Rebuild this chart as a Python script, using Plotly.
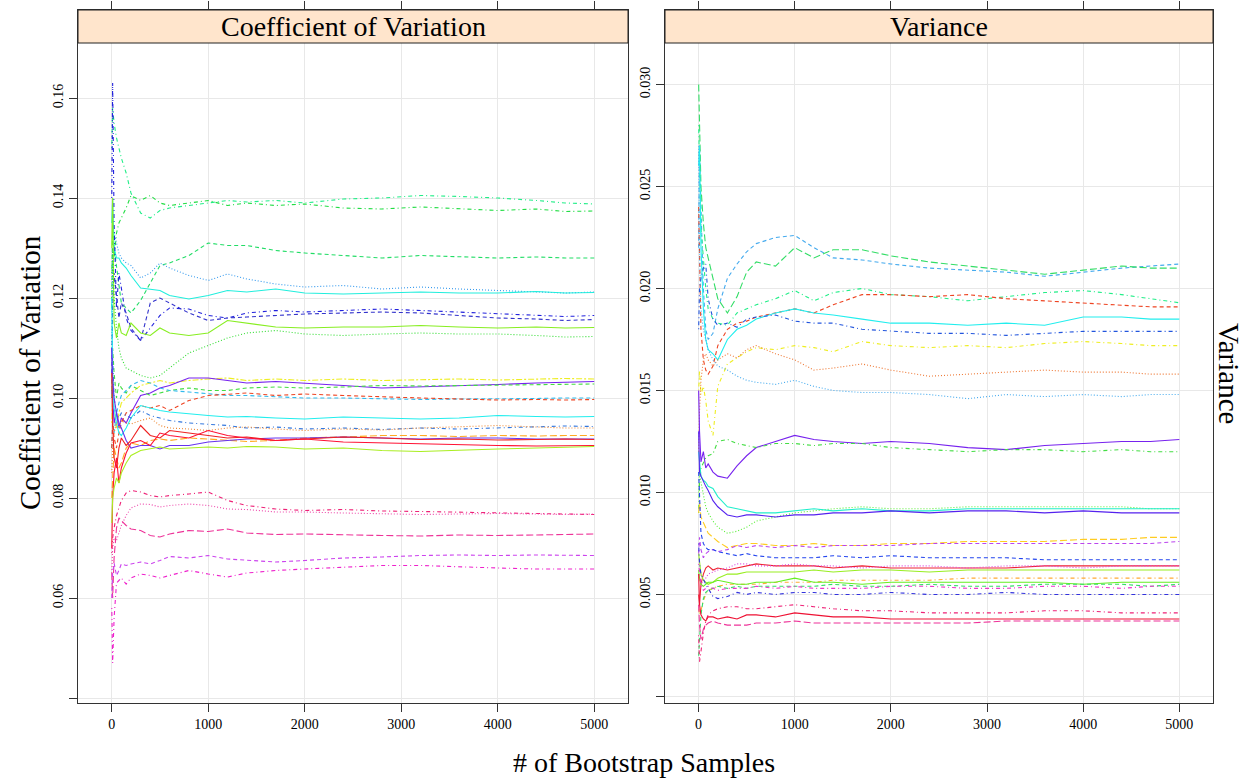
import plotly.graph_objects as go

# ---------------- data ----------------
x_samples = [1, 10, 25, 50, 75, 100, 150, 200, 300, 400, 500, 600, 800, 1000,
             1200, 1400, 1700, 2000, 2400, 2800, 3200, 3600, 4000, 4400, 4700, 5000]

x_ticks = [0, 1000, 2000, 3000, 4000, 5000]
cv_ticks = [0.04, 0.06, 0.08, 0.10, 0.12, 0.14, 0.16]
cv_tick_text = ["", "0.06", "0.08", "0.10", "0.12", "0.14", "0.16"]
va_ticks = [0.0, 0.005, 0.010, 0.015, 0.020, 0.025, 0.030]
va_tick_text = ["", "0.005", "0.010", "0.015", "0.020", "0.025", "0.030"]

panel_titles = ["Coefficient of Variation", "Variance"]

# Coefficient of Variation panel
cv_01 = [0.150, 0.158, 0.155, 0.152, 0.150, 0.148, 0.145, 0.141, 0.137, 0.136, 0.1375, 0.138, 0.1385, 0.139, 0.1395, 0.1392, 0.1395, 0.139, 0.1398, 0.140, 0.1405, 0.1403, 0.140, 0.1395, 0.139, 0.1388]
cv_02 = [0.125, 0.130, 0.128, 0.133, 0.135, 0.136, 0.138, 0.1405, 0.1395, 0.1405, 0.139, 0.1385, 0.139, 0.1395, 0.1385, 0.139, 0.1385, 0.1388, 0.138, 0.1378, 0.1382, 0.1378, 0.1375, 0.1378, 0.1373, 0.1374]
cv_03 = [0.118, 0.135, 0.130, 0.126, 0.122, 0.119, 0.118, 0.117, 0.1195, 0.123, 0.1265, 0.127, 0.1285, 0.131, 0.1305, 0.1305, 0.1295, 0.129, 0.1285, 0.128, 0.1285, 0.1283, 0.128, 0.1282, 0.128, 0.128]
cv_04 = [0.110, 0.128, 0.133, 0.131, 0.129, 0.128, 0.127, 0.1265, 0.124, 0.125, 0.127, 0.126, 0.1245, 0.1235, 0.1248, 0.1238, 0.1228, 0.1222, 0.1225, 0.1218, 0.1222, 0.1218, 0.1215, 0.1213, 0.121, 0.1212]
cv_05 = [0.135, 0.140, 0.130, 0.128, 0.128, 0.127, 0.126, 0.1245, 0.122, 0.1218, 0.1215, 0.1205, 0.1198, 0.1205, 0.1215, 0.1212, 0.1218, 0.121, 0.1208, 0.121, 0.1212, 0.121, 0.121, 0.1213, 0.121, 0.1211]
cv_06 = [0.140, 0.163, 0.135, 0.118, 0.125, 0.122, 0.116, 0.1135, 0.1115, 0.114, 0.1165, 0.118, 0.1178, 0.1165, 0.116, 0.117, 0.1175, 0.1172, 0.1175, 0.1178, 0.1175, 0.1172, 0.1168, 0.1165, 0.1163, 0.1165]
cv_07 = [0.105, 0.118, 0.125, 0.120, 0.116, 0.119, 0.117, 0.114, 0.1115, 0.119, 0.120, 0.119, 0.117, 0.1155, 0.116, 0.1162, 0.1165, 0.1168, 0.117, 0.1172, 0.117, 0.1165, 0.116, 0.1158, 0.1155, 0.1157]
cv_08 = [0.130, 0.140, 0.115, 0.112, 0.115, 0.113, 0.1125, 0.115, 0.113, 0.1125, 0.114, 0.113, 0.1125, 0.113, 0.1155, 0.115, 0.1142, 0.114, 0.1142, 0.1142, 0.1145, 0.1142, 0.114, 0.1142, 0.114, 0.1141]
cv_09 = [0.120, 0.130, 0.120, 0.114, 0.110, 0.108, 0.106, 0.1055, 0.1045, 0.104, 0.1045, 0.106, 0.109, 0.1105, 0.112, 0.113, 0.1135, 0.1128, 0.1125, 0.1128, 0.113, 0.1128, 0.1128, 0.1125, 0.1122, 0.1123]
cv_10 = [0.095, 0.100, 0.096, 0.094, 0.097, 0.099, 0.100, 0.101, 0.1025, 0.103, 0.1035, 0.103, 0.1035, 0.1038, 0.104, 0.1035, 0.1038, 0.1035, 0.1038, 0.1035, 0.1037, 0.1038, 0.1036, 0.1037, 0.1039, 0.1038]
cv_11 = [0.110, 0.100, 0.095, 0.097, 0.094, 0.096, 0.095, 0.097, 0.1005, 0.101, 0.102, 0.1025, 0.104, 0.104, 0.1035, 0.103, 0.1033, 0.103, 0.1025, 0.102, 0.1022, 0.1025, 0.1027, 0.103, 0.1032, 0.1033]
cv_12 = [0.100, 0.110, 0.105, 0.100, 0.103, 0.102, 0.101, 0.1025, 0.1015, 0.1005, 0.101, 0.1015, 0.102, 0.1015, 0.1015, 0.102, 0.1022, 0.102, 0.1022, 0.1025, 0.1024, 0.1025, 0.1026, 0.1027, 0.1028, 0.1028]
cv_13 = [0.090, 0.095, 0.093, 0.097, 0.099, 0.1005, 0.1015, 0.1025, 0.1035, 0.103, 0.102, 0.1015, 0.1012, 0.1008, 0.1005, 0.1005, 0.1002, 0.100, 0.100, 0.0998, 0.0997, 0.0998, 0.0998, 0.0999, 0.100, 0.100]
cv_14 = [0.090, 0.095, 0.092, 0.090, 0.093, 0.095, 0.097, 0.0975, 0.0985, 0.098, 0.0985, 0.0975, 0.0995, 0.1005, 0.1008, 0.101, 0.1005, 0.1008, 0.1005, 0.1002, 0.100, 0.0998, 0.0996, 0.0997, 0.0996, 0.0997]
cv_15 = [0.120, 0.105, 0.098, 0.095, 0.093, 0.0925, 0.094, 0.096, 0.0985, 0.098, 0.0975, 0.0972, 0.0968, 0.0965, 0.0962, 0.0963, 0.096, 0.0958, 0.0962, 0.096, 0.0958, 0.096, 0.0965, 0.0963, 0.0962, 0.0963]
cv_16 = [0.100, 0.108, 0.100, 0.097, 0.096, 0.097, 0.0965, 0.096, 0.0975, 0.0965, 0.096, 0.0955, 0.095, 0.0948, 0.0945, 0.094, 0.0942, 0.0938, 0.094, 0.0937, 0.094, 0.0938, 0.094, 0.0943, 0.0944, 0.0943]
cv_17 = [0.085, 0.090, 0.093, 0.095, 0.094, 0.0955, 0.095, 0.0948, 0.0955, 0.096, 0.0945, 0.094, 0.0938, 0.0935, 0.094, 0.0942, 0.0938, 0.0935, 0.0938, 0.0936, 0.094, 0.0942, 0.0945, 0.0942, 0.094, 0.094]
cv_18 = [0.080, 0.085, 0.090, 0.088, 0.086, 0.087, 0.090, 0.091, 0.0905, 0.0915, 0.0918, 0.0915, 0.092, 0.0918, 0.0915, 0.0913, 0.0915, 0.092, 0.0922, 0.0925, 0.0925, 0.0923, 0.0925, 0.0924, 0.0925, 0.0925]
cv_19 = [0.110, 0.104, 0.100, 0.097, 0.095, 0.094, 0.0915, 0.090, 0.0905, 0.0905, 0.0898, 0.0905, 0.0905, 0.0912, 0.0915, 0.0918, 0.092, 0.092, 0.0922, 0.092, 0.0918, 0.092, 0.092, 0.0918, 0.0918, 0.0918]
cv_20 = [0.105, 0.095, 0.088, 0.086, 0.090, 0.092, 0.0905, 0.0915, 0.0945, 0.0925, 0.092, 0.0935, 0.093, 0.0925, 0.092, 0.0922, 0.0915, 0.0918, 0.0922, 0.092, 0.0917, 0.0918, 0.0916, 0.0917, 0.0918, 0.0917]
cv_21 = [0.070, 0.080, 0.085, 0.088, 0.083, 0.086, 0.089, 0.091, 0.0915, 0.0905, 0.093, 0.0925, 0.092, 0.0935, 0.0925, 0.092, 0.0915, 0.0918, 0.0912, 0.091, 0.0908, 0.0906, 0.0905, 0.0904, 0.0905, 0.0905]
cv_22 = [0.075, 0.080, 0.082, 0.084, 0.083, 0.085, 0.087, 0.0885, 0.0895, 0.0898, 0.0902, 0.0898, 0.090, 0.0902, 0.090, 0.0903, 0.0902, 0.0898, 0.090, 0.0895, 0.0893, 0.0896, 0.0898, 0.090, 0.0902, 0.0903]
cv_23 = [0.069, 0.072, 0.074, 0.0765, 0.078, 0.0795, 0.081, 0.0815, 0.0812, 0.0805, 0.0802, 0.0805, 0.0808, 0.0812, 0.0795, 0.0785, 0.0778, 0.0775, 0.0777, 0.0774, 0.0773, 0.0772, 0.0771, 0.0769, 0.0768, 0.0767]
cv_24 = [0.065, 0.070, 0.072, 0.0715, 0.073, 0.0745, 0.0765, 0.078, 0.0788, 0.0787, 0.0782, 0.0785, 0.0788, 0.0785, 0.0778, 0.0777, 0.0772, 0.0772, 0.077, 0.0768, 0.0767, 0.0768, 0.0769, 0.0768, 0.0767, 0.0768]
cv_25 = [0.065, 0.060, 0.068, 0.074, 0.076, 0.0755, 0.0745, 0.0738, 0.0735, 0.0725, 0.0722, 0.0728, 0.0735, 0.0733, 0.0738, 0.073, 0.0727, 0.0728, 0.0726, 0.0725, 0.0724, 0.0726, 0.0725, 0.0727, 0.0727, 0.0728]
cv_26 = [0.060, 0.065, 0.067, 0.0645, 0.0655, 0.0668, 0.0665, 0.0668, 0.0672, 0.0668, 0.0675, 0.0683, 0.068, 0.0685, 0.0678, 0.0675, 0.0672, 0.0675, 0.068, 0.0682, 0.0685, 0.0686, 0.0685, 0.0686, 0.0686, 0.0685]
cv_27 = [0.058, 0.047, 0.056, 0.063, 0.0635, 0.064, 0.0628, 0.064, 0.0648, 0.0645, 0.064, 0.0645, 0.0655, 0.0648, 0.0642, 0.065, 0.0655, 0.0658, 0.0662, 0.0665, 0.0665, 0.0662, 0.066, 0.0658, 0.0658, 0.0658]

# Variance panel
va_01 = [0.022, 0.027, 0.024, 0.020, 0.018, 0.0175, 0.0178, 0.019, 0.0205, 0.0212, 0.0218, 0.0222, 0.0225, 0.0226, 0.022, 0.0215, 0.0214, 0.0212, 0.021, 0.0209, 0.0208, 0.0206, 0.0208, 0.021, 0.0211, 0.0212]
va_02 = [0.030, 0.028, 0.025, 0.0232, 0.022, 0.0215, 0.0205, 0.0195, 0.0188, 0.0196, 0.0208, 0.0213, 0.0211, 0.022, 0.0215, 0.0219, 0.0219, 0.0216, 0.0213, 0.0211, 0.0209, 0.0207, 0.0209, 0.0211, 0.021, 0.021]
va_03 = [0.028, 0.026, 0.023, 0.0215, 0.020, 0.019, 0.0185, 0.0183, 0.0182, 0.0188, 0.019, 0.0192, 0.0195, 0.0199, 0.0194, 0.0198, 0.020, 0.0197, 0.0196, 0.0194, 0.0196, 0.0198, 0.0199, 0.0197, 0.0195, 0.0193]
va_04 = [0.024, 0.021, 0.018, 0.0165, 0.016, 0.0158, 0.0162, 0.0172, 0.018, 0.0183, 0.0184, 0.0186, 0.0188, 0.019, 0.0188, 0.0192, 0.0197, 0.0197, 0.0196, 0.0197, 0.0195, 0.0194, 0.0193, 0.0192, 0.0191, 0.0191]
va_05 = [0.026, 0.027, 0.022, 0.019, 0.0175, 0.017, 0.0168, 0.0165, 0.0175, 0.018, 0.0182, 0.0185, 0.0188, 0.019, 0.0188, 0.0187, 0.0185, 0.0183, 0.0183, 0.0182, 0.0183, 0.0182, 0.0186, 0.0186, 0.0185, 0.0185]
va_06 = [0.018, 0.020, 0.0205, 0.021, 0.0212, 0.0195, 0.0185, 0.0182, 0.0183, 0.0181, 0.0185, 0.0186, 0.0187, 0.0184, 0.0183, 0.0183, 0.018, 0.0179, 0.0178, 0.0178, 0.0177, 0.0178, 0.0179, 0.0179, 0.0179, 0.0179]
va_07 = [0.015, 0.016, 0.0148, 0.0152, 0.0145, 0.0135, 0.0128, 0.0152, 0.0163, 0.0166, 0.0169, 0.0171, 0.017, 0.0172, 0.0171, 0.0169, 0.0174, 0.0172, 0.0171, 0.0172, 0.0171, 0.0173, 0.0174, 0.0173, 0.0172, 0.0172]
va_08 = [0.012, 0.014, 0.0155, 0.0165, 0.0168, 0.0165, 0.0162, 0.0165, 0.0168, 0.0166, 0.017, 0.0172, 0.0168, 0.0165, 0.016, 0.0161, 0.0163, 0.016, 0.0157, 0.0158, 0.0159, 0.016, 0.0159, 0.0159, 0.0158, 0.0158]
va_09 = [0.027, 0.022, 0.019, 0.018, 0.0175, 0.017, 0.0165, 0.0162, 0.016, 0.0157, 0.0155, 0.0154, 0.0153, 0.0155, 0.0152, 0.015, 0.0149, 0.0149, 0.0148, 0.0146, 0.0148, 0.0147, 0.0148, 0.0147, 0.0148, 0.0148]
va_10 = [0.015, 0.013, 0.0115, 0.012, 0.0112, 0.0114, 0.011, 0.0108, 0.0107, 0.0113, 0.0118, 0.0122, 0.0125, 0.0128, 0.0126, 0.0125, 0.0124, 0.0125, 0.0124, 0.0122, 0.0121, 0.0123, 0.0124, 0.0125, 0.0125, 0.0126]
va_11 = [0.009, 0.0105, 0.0112, 0.0115, 0.0117, 0.0118, 0.0119, 0.0125, 0.0126, 0.0124, 0.0123, 0.0122, 0.0124, 0.0124, 0.0123, 0.0124, 0.0124, 0.0122, 0.0121, 0.012, 0.0121, 0.0121, 0.012, 0.0121, 0.012, 0.012]
va_12 = [0.010, 0.011, 0.0105, 0.0098, 0.0093, 0.009, 0.0086, 0.0083, 0.008, 0.0081, 0.0083, 0.0086, 0.0088, 0.009, 0.0091, 0.0092, 0.0093, 0.0092, 0.0092, 0.0093, 0.0093, 0.0093, 0.0093, 0.0093, 0.0092, 0.0092]
va_13 = [0.012, 0.0115, 0.0108, 0.0106, 0.0105, 0.0103, 0.0102, 0.0098, 0.0093, 0.0092, 0.0091, 0.009, 0.009, 0.0091, 0.0092, 0.0091, 0.0092, 0.0091, 0.0091, 0.0092, 0.0092, 0.0092, 0.0092, 0.0092, 0.0092, 0.0092]
va_14 = [0.013, 0.011, 0.0108, 0.0105, 0.0103, 0.0101, 0.0096, 0.0093, 0.0089, 0.0088, 0.0089, 0.0089, 0.0088, 0.0089, 0.0089, 0.009, 0.009, 0.0091, 0.009, 0.0091, 0.0091, 0.009, 0.0091, 0.009, 0.009, 0.009]
va_15 = [0.009, 0.0095, 0.0088, 0.0085, 0.0082, 0.008, 0.0078, 0.0076, 0.0073, 0.0074, 0.0075, 0.0075, 0.0074, 0.0074, 0.0075, 0.0074, 0.0074, 0.0075, 0.0075, 0.0076, 0.0076, 0.0076, 0.0077, 0.0077, 0.0078, 0.0078]
va_16 = [0.007, 0.0078, 0.0072, 0.0068, 0.007, 0.0071, 0.0072, 0.0071, 0.0072, 0.0074, 0.0073, 0.0074, 0.0073, 0.0074, 0.0073, 0.0074, 0.0074, 0.0074, 0.0075, 0.0075, 0.0075, 0.0075, 0.0075, 0.0075, 0.0075, 0.0076]
va_17 = [0.011, 0.0095, 0.008, 0.0075, 0.0073, 0.0072, 0.0072, 0.0071, 0.007, 0.0069, 0.007, 0.0069, 0.0068, 0.0068, 0.0068, 0.0069, 0.0068, 0.0069, 0.0068, 0.0068, 0.0068, 0.0067, 0.0067, 0.0067, 0.0067, 0.0067]
va_18 = [0.005, 0.0045, 0.0055, 0.006, 0.0063, 0.0064, 0.0062, 0.0063, 0.0062, 0.0063, 0.0064, 0.0065, 0.0064, 0.0064, 0.0064, 0.0063, 0.0064, 0.0063, 0.0063, 0.0063, 0.0063, 0.0064, 0.0064, 0.0064, 0.0064, 0.0064]
va_19 = [0.006, 0.0058, 0.0055, 0.0057, 0.0058, 0.006, 0.0061, 0.0062, 0.0063, 0.0065, 0.0065, 0.0064, 0.0064, 0.0065, 0.0064, 0.0064, 0.0063, 0.0064, 0.0064, 0.0063, 0.0064, 0.0064, 0.0063, 0.0064, 0.0064, 0.0064]
va_20 = [0.007, 0.0065, 0.006, 0.0057, 0.0056, 0.0055, 0.0056, 0.0058, 0.006, 0.006, 0.0061, 0.0061, 0.0061, 0.0061, 0.0062, 0.0061, 0.0062, 0.0062, 0.0061, 0.0062, 0.0062, 0.0062, 0.0062, 0.0062, 0.0062, 0.0062]
va_21 = [0.0045, 0.004, 0.0042, 0.0047, 0.005, 0.0052, 0.0053, 0.0054, 0.0055, 0.0055, 0.0055, 0.0055, 0.0056, 0.0056, 0.0056, 0.0057, 0.0057, 0.0057, 0.0057, 0.0058, 0.0058, 0.0058, 0.0058, 0.0058, 0.0058, 0.0058]
va_22 = [0.0062, 0.0058, 0.0055, 0.0054, 0.0055, 0.0056, 0.0056, 0.0057, 0.0056, 0.0055, 0.0055, 0.0056, 0.0056, 0.0058, 0.0056, 0.0056, 0.0055, 0.0056, 0.0056, 0.0056, 0.0056, 0.0056, 0.0055, 0.0056, 0.0056, 0.0056]
va_23 = [0.002, 0.0028, 0.004, 0.0048, 0.0051, 0.0052, 0.0053, 0.0054, 0.0053, 0.0054, 0.0053, 0.0054, 0.0054, 0.0054, 0.0054, 0.0055, 0.0054, 0.0054, 0.0055, 0.0054, 0.0054, 0.0055, 0.0055, 0.0055, 0.0054, 0.0055]
va_24 = [0.0065, 0.006, 0.0055, 0.0052, 0.0053, 0.0054, 0.0053, 0.0052, 0.0053, 0.0053, 0.0053, 0.0054, 0.0053, 0.0054, 0.0053, 0.0053, 0.0053, 0.0054, 0.0054, 0.0053, 0.0053, 0.0054, 0.0054, 0.0053, 0.0054, 0.0054]
va_25 = [0.0075, 0.0065, 0.006, 0.0057, 0.0055, 0.0053, 0.0049, 0.0048, 0.0049, 0.0051, 0.005, 0.0051, 0.005, 0.0051, 0.0051, 0.005, 0.005, 0.0051, 0.005, 0.005, 0.0051, 0.005, 0.005, 0.005, 0.005, 0.005]
va_26 = [0.003, 0.0017, 0.0022, 0.0031, 0.0037, 0.004, 0.0042, 0.0043, 0.0044, 0.0044, 0.0043, 0.0043, 0.0044, 0.0045, 0.0044, 0.0043, 0.0042, 0.0042, 0.0041, 0.0041, 0.0041, 0.0042, 0.0042, 0.0041, 0.0041, 0.0041]
va_27 = [0.006, 0.0045, 0.004, 0.0038, 0.0037, 0.0039, 0.0039, 0.0038, 0.0039, 0.0038, 0.004, 0.004, 0.0039, 0.0041, 0.004, 0.0039, 0.0039, 0.0038, 0.0038, 0.0038, 0.0038, 0.0038, 0.0038, 0.0038, 0.0038, 0.0038]
va_28 = [0.0045, 0.0035, 0.0028, 0.0033, 0.0035, 0.0036, 0.0037, 0.0036, 0.0035, 0.0035, 0.0035, 0.0036, 0.0036, 0.0037, 0.0036, 0.0036, 0.0036, 0.0036, 0.0036, 0.0036, 0.0037, 0.0037, 0.0037, 0.0037, 0.0037, 0.0037]

cv_series = [cv_01, cv_02, cv_03, cv_04, cv_05, cv_06, cv_07, cv_08, cv_09, cv_10,
             cv_11, cv_12, cv_13, cv_14, cv_15, cv_16, cv_17, cv_18, cv_19, cv_20,
             cv_21, cv_22, cv_23, cv_24, cv_25, cv_26, cv_27]
va_series = [va_01, va_02, va_03, va_04, va_05, va_06, va_07, va_08, va_09, va_10,
             va_11, va_12, va_13, va_14, va_15, va_16, va_17, va_18, va_19, va_20,
             va_21, va_22, va_23, va_24, va_25, va_26, va_27, va_28]

# ---------------- styles ----------------
SOLID = "solid"
DASHED = "4px,3px"
DOTTED = "1px,2px"
DOTDASH = "1px,3px,4px,3px"
LONGDASH = "7px,3px"
TWODASH = "2px,2px,6px,2px"

cv_colors = ["#22EE88", "#22DD44", "#22DD66", "#3399EE", "#22EEDD", "#2222DD", "#3333CC",
             "#88EE22", "#33DD33", "#EEEE22", "#7722EE", "#44DD44", "#33BBEE", "#EE4422",
             "#22EEEE", "#3377DD", "#EE8833", "#FFAA22", "#6633EE", "#EE2222", "#FF1133",
             "#AAEE22", "#EE2277", "#EE44AA", "#EE3399", "#CC44EE", "#EE22CC"]
cv_dashes = [DOTDASH, DOTDASH, DASHED, DOTTED, SOLID, DOTDASH, DASHED,
             SOLID, DOTTED, TWODASH, SOLID, DASHED, DASHED, DASHED,
             SOLID, DOTDASH, DOTTED, LONGDASH, SOLID, SOLID, SOLID,
             SOLID, DOTDASH, DOTTED, LONGDASH, DASHED, DOTDASH]

va_colors = ["#44AAEE", "#33DD66", "#22EE88", "#EE4422", "#22EEEE", "#2255DD", "#EEEE22",
             "#EE7733", "#44AAEE", "#7722EE", "#44DD44", "#55EE33", "#22EECC", "#5522EE",
             "#FFCC22", "#BB44EE", "#2244EE", "#EE2233", "#DD44DD", "#99EE22", "#FFAA33",
             "#66EE22", "#33DD66", "#EE33CC", "#3333DD", "#EE2277", "#EE1133", "#EE3399"]
va_dashes = [DASHED, LONGDASH, DOTDASH, DASHED, SOLID, DOTDASH, DOTDASH,
             DOTTED, DOTTED, SOLID, DOTDASH, DOTTED, SOLID, SOLID,
             LONGDASH, DASHED, DASHED, SOLID, DOTTED, SOLID, DOTDASH,
             SOLID, DASHED, DOTDASH, DOTDASH, DOTDASH, SOLID, LONGDASH]

W, H = 1250, 782
FONT = "Liberation Serif, Times New Roman, Times, serif"

def px_x(p):
    return p / W

def px_y(p):
    return 1 - p / H

# panel geometry in pixels
left_panel = (78, 628)
right_panel = (665, 1213)
plot_top, strip_top, plot_bottom = 43, 10, 703

fig = go.Figure()

for vals, col, dsh in zip(cv_series, cv_colors, cv_dashes):
    fig.add_trace(go.Scatter(x=x_samples, y=vals, mode="lines", xaxis="x", yaxis="y",
                             line=dict(color=col, width=1.1, dash=dsh),
                             showlegend=False, hoverinfo="skip"))
for vals, col, dsh in zip(va_series, va_colors, va_dashes):
    fig.add_trace(go.Scatter(x=x_samples, y=vals, mode="lines", xaxis="x2", yaxis="y2",
                             line=dict(color=col, width=1.1, dash=dsh),
                             showlegend=False, hoverinfo="skip"))

x_range = [-349, 5350]
# y ranges extended so that the plotting region above the data reaches the strip top
cv_range = [0.039, 0.16 + (98 - strip_top) / 5000]
va_range = [-0.00032, (696.5 - strip_top) / 20400]

common_x = dict(range=x_range, tickvals=x_ticks, ticks="outside", ticklen=8, tickwidth=1,
                tickcolor="#333333", showline=True, linecolor="#333333", linewidth=1,
                mirror="ticks", showgrid=True, gridcolor="#e8e8e8", gridwidth=1,
                zeroline=False, tickfont=dict(family=FONT, size=14, color="black"))
common_y = dict(ticks="outside", ticklen=8, tickwidth=1, tickcolor="#333333", tickangle=-90,
                showline=True, linecolor="#333333", linewidth=1, mirror=True,
                showgrid=True, gridcolor="#e8e8e8", gridwidth=1, zeroline=False,
                tickfont=dict(family=FONT, size=14, color="black"))

ydom = [px_y(plot_bottom), px_y(strip_top)]

fig.update_layout(
    width=W, height=H, margin=dict(l=0, r=0, t=0, b=0),
    paper_bgcolor="white", plot_bgcolor="white",
    font=dict(family=FONT, color="black"),
    xaxis=dict(domain=[px_x(left_panel[0]), px_x(left_panel[1])], anchor="y", **common_x),
    xaxis2=dict(domain=[px_x(right_panel[0]), px_x(right_panel[1])], anchor="y2", **common_x),
    yaxis=dict(domain=ydom, anchor="x", range=cv_range, tickvals=cv_ticks,
               ticktext=cv_tick_text, **common_y),
    yaxis2=dict(domain=ydom, anchor="x2", range=va_range, tickvals=va_ticks,
                ticktext=va_tick_text, **common_y),
)

shapes = []
annotations = []
for (x0, x1), title in zip([left_panel, right_panel], panel_titles):
    shapes.append(dict(type="rect", xref="paper", yref="paper",
                       x0=px_x(x0), x1=px_x(x1), y0=px_y(plot_top), y1=px_y(strip_top),
                       fillcolor="#FFE5CC", line=dict(color="#222222", width=1), layer="above"))
    annotations.append(dict(text=title, xref="paper", yref="paper",
                            x=px_x((x0 + x1) / 2), y=px_y((plot_top + strip_top) / 2),
                            xanchor="center", yanchor="middle", showarrow=False,
                            font=dict(family=FONT, size=28, color="black")))

annotations.append(dict(text="Coefficient of Variation", xref="paper", yref="paper",
                        x=px_x(30), y=px_y((plot_top + plot_bottom) / 2), textangle=-90,
                        xanchor="center", yanchor="middle", showarrow=False,
                        font=dict(family=FONT, size=29, color="black")))
annotations.append(dict(text="Variance", xref="paper", yref="paper",
                        x=px_x(1229), y=px_y((plot_top + plot_bottom) / 2), textangle=90,
                        xanchor="center", yanchor="middle", showarrow=False,
                        font=dict(family=FONT, size=29, color="black")))
annotations.append(dict(text="# of Bootstrap Samples", xref="paper", yref="paper",
                        x=px_x(644), y=px_y(762),
                        xanchor="center", yanchor="middle", showarrow=False,
                        font=dict(family=FONT, size=28, color="black")))

fig.update_layout(shapes=shapes, annotations=annotations)
fig.write_html("out.html")
